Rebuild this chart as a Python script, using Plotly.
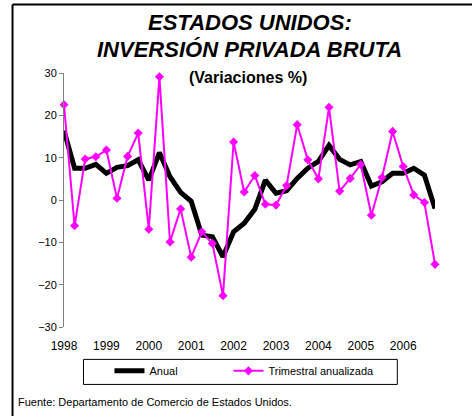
import plotly.graph_objects as go

quarters = list(range(36))
year_ticks = [0, 4, 8, 12, 16, 20, 24, 28, 32]
year_labels = ["1998", "1999", "2000", "2001", "2002", "2003", "2004", "2005", "2006"]

anual = [16.4, 7.5, 7.5, 8.4, 6.3, 7.7, 8.1, 9.5, 4.7, 11.2, 5.5, 1.8,
         -0.3, -8.3, -8.7, -13.4, -7.5, -5.5, -2.2, 4.7, 1.6, 2.2, 5.1, 7.5,
         9.1, 12.9, 9.6, 8.3, 9.1, 3.3, 4.3, 6.3, 6.3, 7.5, 5.9, -2.0]

trimestral = [22.5, -6.1, 9.7, 10.2, 11.8, 0.4, 10.3, 15.8, -6.9, 29.1, -9.9, -2.1,
              -13.5, -7.5, -10.3, -22.6, 13.7, 1.9, 5.8, -1.0, -1.2, 3.4, 17.8, 9.5,
              5.0, 21.9, 2.1, 5.1, 8.4, -3.6, 5.3, 16.2, 7.9, 1.2, -0.6, -15.2]

y_ticks = [30, 20, 10, 0, -10, -20, -30]

W, H = 472, 416
ML, MR, MT, MB = 63.5, 37.3, 73.3, 89.3
PW = W - ML - MR
PH = H - MT - MB


def px(x):
    return (x - ML) / PW


def py(y):
    return (H - MB - y) / PH


FONT = "Liberation Sans, Arial, sans-serif"

fig = go.Figure()
fig.add_trace(go.Scatter(
    x=quarters, y=anual, name="Anual", mode="lines",
    line=dict(color="black", width=5), cliponaxis=False, legend="legend"))
fig.add_trace(go.Scatter(
    x=quarters, y=trimestral, name="Trimestral anualizada", mode="lines+markers",
    line=dict(color="#FF00FF", width=2),
    marker=dict(symbol="diamond", size=7, color="#FF00FF"), cliponaxis=False,
    legend="legend2"))

leg_common = dict(orientation="h", xanchor="left", yanchor="top",
                  bgcolor="rgba(0,0,0,0)", borderwidth=0,
                  font=dict(family=FONT, size=11))

fig.update_layout(
    width=W, height=H,
    margin=dict(l=ML, r=MR, t=MT, b=MB, pad=0),
    paper_bgcolor="white", plot_bgcolor="white",
    font=dict(family=FONT, size=11, color="black"),
    showlegend=True,
    legend=dict(x=px(109), y=py(356), **leg_common),
    legend2=dict(x=px(228), y=py(356), **leg_common),
    xaxis=dict(range=[0, 35], tickvals=year_ticks, ticktext=year_labels,
               showline=False, showgrid=False, zeroline=False,
               ticks="outside", ticklen=8, tickcolor="rgba(0,0,0,0)",
               tickfont=dict(family=FONT, size=12)),
    xaxis2=dict(range=[0, 35], overlaying="x", anchor="free", position=0.5,
                side="bottom", tickvals=year_ticks, showticklabels=False,
                showline=True, linecolor="#808080", linewidth=1,
                ticks="outside", ticklen=4, tickcolor="#808080",
                showgrid=False, zeroline=False),
    yaxis=dict(range=[-30, 30], tickvals=y_ticks, showgrid=False, zeroline=False,
               showline=True, linecolor="#808080", linewidth=1,
               ticks="outside", ticklen=4, tickcolor="#808080",
               tickfont=dict(family=FONT, size=11)),
    shapes=[
        dict(type="line", xref="paper", yref="paper", x0=px(12), x1=px(472),
             y0=py(5), y1=py(5), line=dict(color="black", width=2)),
        dict(type="line", xref="paper", yref="paper", x0=px(12), x1=px(12),
             y0=py(5), y1=py(416), line=dict(color="black", width=2)),
        dict(type="rect", xref="paper", yref="paper", x0=px(83), x1=px(397),
             y0=py(359), y1=py(384), line=dict(color="black", width=1)),
    ],
    annotations=[
        dict(text="<b><i>ESTADOS UNIDOS:</i></b>", xref="paper", yref="paper",
             x=px(250), y=py(23), showarrow=False, xanchor="center", yanchor="middle",
             font=dict(family=FONT, size=22)),
        dict(text="<b><i>INVERSIÓN PRIVADA BRUTA</i></b>", xref="paper", yref="paper",
             x=px(249), y=py(50), showarrow=False, xanchor="center", yanchor="middle",
             font=dict(family=FONT, size=22)),
        dict(text="<b>(Variaciones %)</b>", xref="paper", yref="paper",
             x=px(248), y=py(78), showarrow=False, xanchor="center", yanchor="middle",
             font=dict(family=FONT, size=16)),
        dict(text="Fuente: Departamento de Comercio de Estados Unidos.", xref="paper",
             yref="paper", x=px(15), y=py(402), showarrow=False, xanchor="left",
             yanchor="middle", font=dict(family=FONT, size=11)),
    ],
)

fig.write_html("out.html", config={"displayModeBar": False},
               post_script="document.body.style.margin='0px';")
